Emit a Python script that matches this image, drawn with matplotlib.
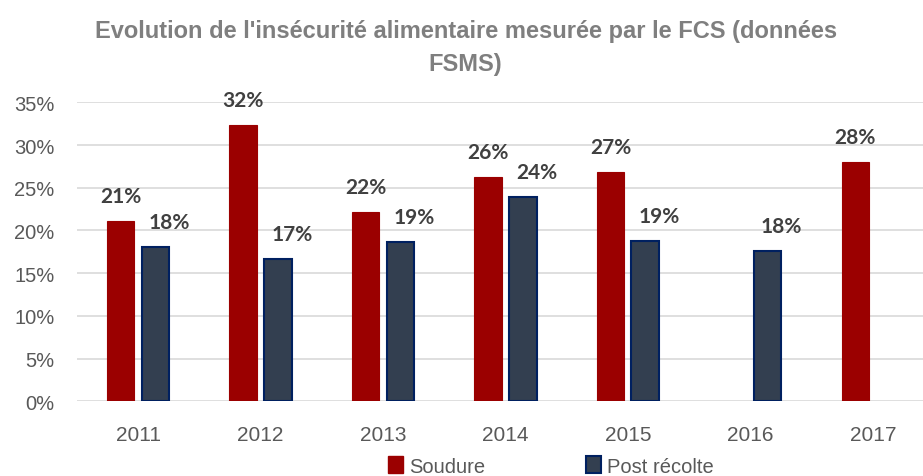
import matplotlib
matplotlib.use("Agg")
import matplotlib.pyplot as plt
from matplotlib.patches import Patch
import numpy as np

years = ["2011", "2012", "2013", "2014", "2015", "2016", "2017"]
soudure = [21.1, 32.3, 22.2, 26.2, 26.8, None, 28.0]
post_recolte = [18.1, 16.6, 18.6, 23.9, 18.8, 17.6, None]
yticks = [0, 5, 10, 15, 20, 25, 30, 35]
title = "Evolution de l'insécurité alimentaire mesurée par le FCS (données\nFSMS)"

narrow = ["Liberation Sans Narrow", "Liberation Sans", "DejaVu Sans"]
label_font = ["Lato", "DejaVu Sans"]

red = "#9b0000"
navy = "#333f50"
navy_edge = "#002060"
grid_c = "#d9d9d9"
tick_c = "#595959"

fig = plt.figure(figsize=(9.23, 4.77), dpi=100)
ax = fig.add_axes([0.0832, 0.1566, 0.9168, 0.6268])

x = np.arange(len(years))
w = 0.225
off = 0.142

for i, v in enumerate(soudure):
    if v is None:
        continue
    ax.bar(x[i] - off, v, width=w, color=red, edgecolor=red, linewidth=0.8, zorder=3)
    ax.annotate(f"{round(v)}%", (x[i] - off, v), xytext=(0, 18), textcoords="offset points",
                ha="center", va="center", fontsize=15, fontweight="bold",
                color="#404040", family=label_font)
for i, v in enumerate(post_recolte):
    if v is None:
        continue
    ax.bar(x[i] + off, v, width=w, color=navy, edgecolor=navy_edge, linewidth=1.5, zorder=3)
    ax.annotate(f"{round(v)}%", (x[i] + off, v), xytext=(10, 18), textcoords="offset points",
                ha="center", va="center", fontsize=15, fontweight="bold",
                color="#404040", family=label_font)

ax.set_xlim(-0.5, 6.41)
ax.set_ylim(0, 35)
ax.set_yticks(yticks)
ax.set_yticklabels([f"{t}%" for t in yticks], family=narrow, fontsize=14.5, color=tick_c)
ax.set_xticks(x)
ax.set_xticklabels(years, family=narrow, fontsize=15, color=tick_c)
ax.tick_params(axis="y", length=0, pad=16)
ax.tick_params(axis="x", length=0, pad=17)
for s in ax.spines.values():
    s.set_visible(False)
ax.yaxis.grid(True, color=grid_c, linewidth=1.2, zorder=0)
ax.set_axisbelow(True)

fig.text(0.5045, 1 - 48 / 477, title, ha="center", va="center", fontsize=17,
         fontweight="bold", color="#7f7f7f", family=narrow, linespacing=1.55)

handles = [Patch(facecolor=red, edgecolor=red, label="Soudure"),
           Patch(facecolor=navy, edgecolor=navy_edge, linewidth=1.5, label="Post récolte")]
fig.legend(handles=handles, loc="center", bbox_to_anchor=(551 / 923, 1 - 467 / 477),
           ncol=2, frameon=False, prop={"family": narrow, "size": 14.5},
           handlelength=0.75, handleheight=0.9, handletextpad=0.3, columnspacing=5.0,
           labelcolor=tick_c)

fig.savefig("out.png", dpi=100)
